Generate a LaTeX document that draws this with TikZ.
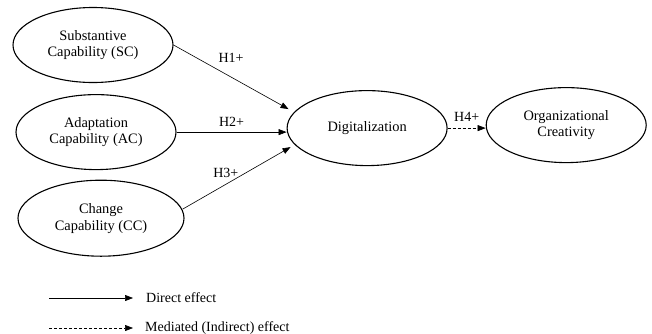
\documentclass[tikz,border=0pt]{standalone}
\usepackage{fontspec}
\setmainfont{Liberation Serif}
\usepackage{tikz}
\usetikzlibrary{arrows.meta, shapes, positioning}

\begin{document}
\begin{tikzpicture}[x=1pt, y=-1pt,
	construct/.style={ellipse, draw, line width=1.1pt, minimum width=160pt, minimum height=75pt, inner sep=0pt, align=center, font=\fontsize{14.4}{16.8}\selectfont},
	direct/.style={-{Triangle[length=8pt, width=6pt]}, line width=0.6pt},
	mediated/.style={direct, dash pattern=on 3pt off 2pt},
	lbl/.style={font=\fontsize{14}{16}\selectfont, inner sep=0pt}]
		\useasboundingbox (0,0) rectangle (652,333);
		\node[construct] (sc) at (93,45) {Substantive\\Capability (SC)};
		\node[construct, below=11pt of sc, xshift=3pt] (ac) {Adaptation\\Capability (AC)};
		\node[construct, below=9.5pt of ac, xshift=5pt, minimum width=166pt, minimum height=76pt] (cc) {Change\\Capability (CC)};
		\node[construct, right=110pt of ac, yshift=4pt] (dig) {Digitalization};
		\node[construct, right=38pt of dig, yshift=3pt] (oc) {Organizational\\Creativity};

		\draw[direct] (sc.east) -- ([shift={(2pt,19pt)}]dig.west) node[lbl, midway, above=14pt] {H1+};
		\draw[direct] (ac.east) -- (ac.east -| dig.west) node[lbl, midway, above=5pt] {H2+};
		\draw[direct] ([shift={(-2pt,9pt)}]cc.east) -- ([shift={(4pt,-19pt)}]dig.west) node[lbl, pos=0.4, above=6pt] {H3+};
		\draw[mediated] (dig.east) -- (dig.east -| oc.west) node[lbl, midway, above=6pt] {H4+};

		\coordinate (dir0) at (49,298);
		\coordinate[right=84pt of dir0] (dir1);
		\node[lbl, right=13pt of dir1] (dirtxt) {Direct effect};
		\coordinate[below=30pt of dir0] (med0);
		\coordinate[right=84pt of med0] (med1);
		\node[lbl, right=12pt of med1] (medtxt) {Mediated (Indirect) effect};
		\draw[direct] (dir0) -- (dir1);
		\draw[mediated] (med0) -- (med1);
\end{tikzpicture}
\end{document}
